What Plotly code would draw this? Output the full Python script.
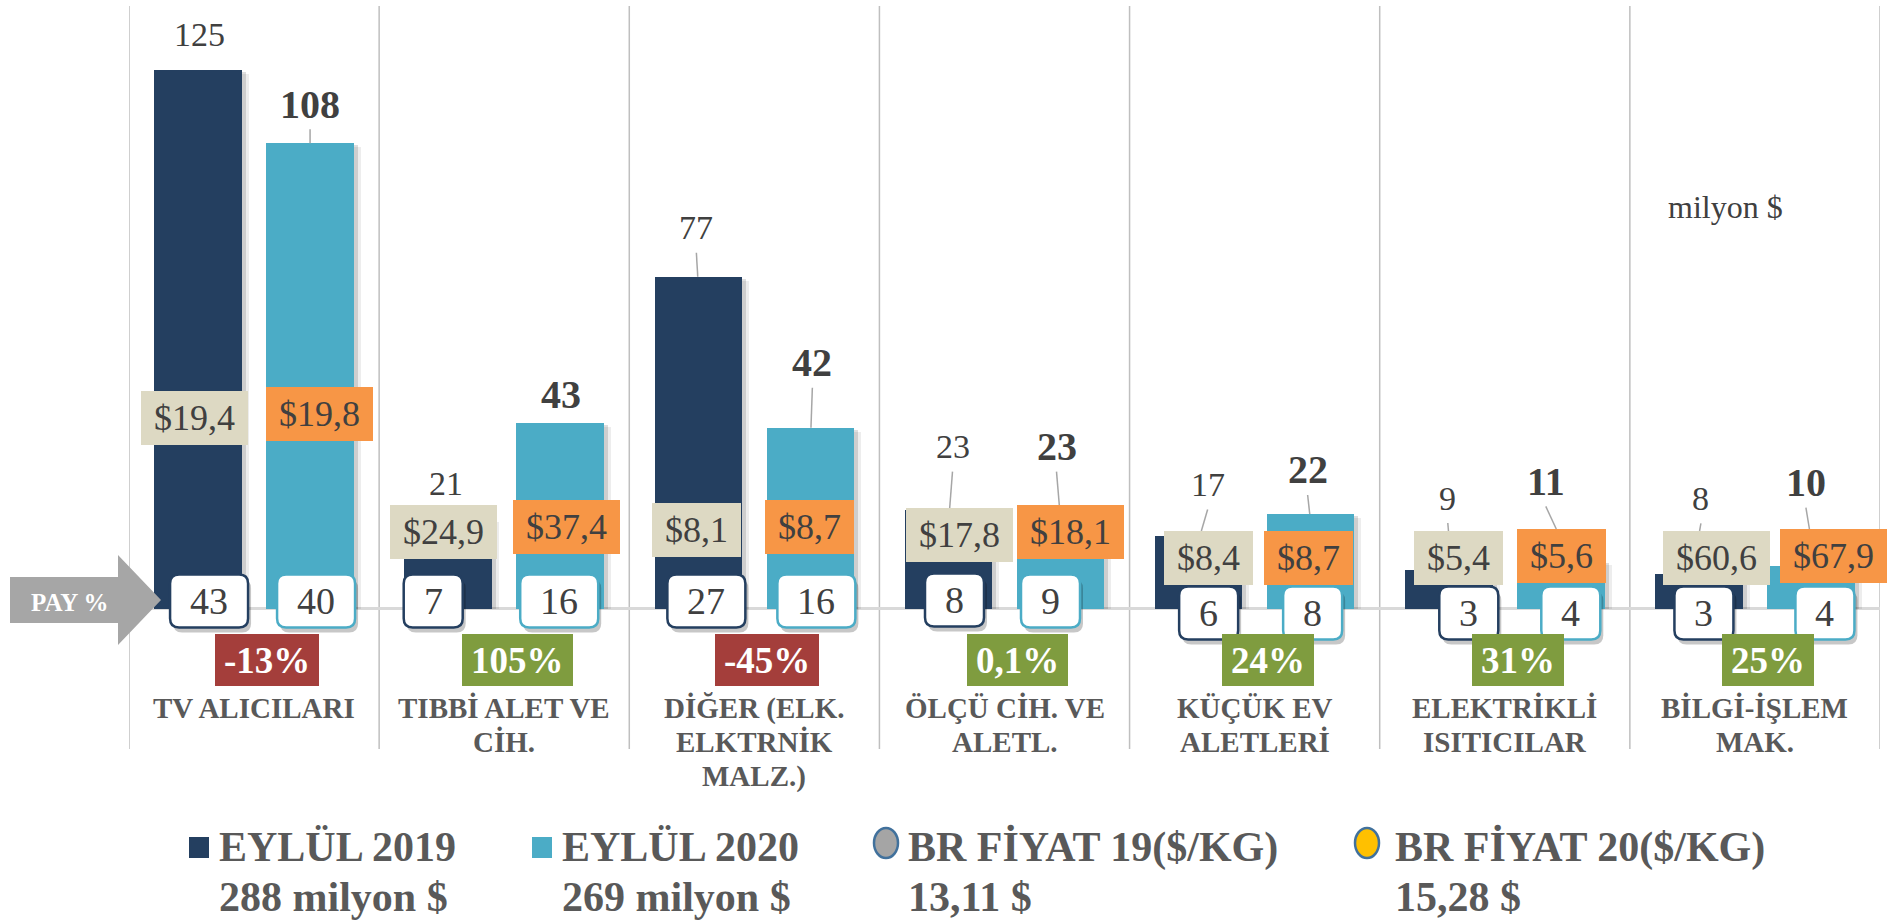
import plotly.graph_objects as go

# ---------------- data ----------------
categories = ["TV ALICILARI", "TIBBİ ALET VE<br>CİH.", "DİĞER (ELK.<br>ELKTRNİK<br>MALZ.)",
              "ÖLÇÜ CİH. VE<br>ALETL.", "KÜÇÜK EV<br>ALETLERİ", "ELEKTRİKLİ<br>ISITICILAR",
              "BİLGİ-İŞLEM<br>MAK."]
exports_2019 = [125, 21, 77, 23, 17, 9, 8]          # milyon $
exports_2020 = [108, 43, 42, 23, 22, 11, 10]        # milyon $
price_2019 = [19.4, 24.9, 8.1, 17.8, 8.4, 5.4, 60.6]  # $/kg
price_2020 = [19.8, 37.4, 8.7, 18.1, 8.7, 5.6, 67.9]  # $/kg
share_2019 = [43, 7, 27, 8, 6, 3, 3]                 # pay %
share_2020 = [40, 16, 16, 9, 8, 4, 4]                # pay %
change_pct = [-13, 105, -45, 0.1, 24, 31, 25]        # degisim %

series_names = ["EYLÜL 2019", "EYLÜL 2020", "BR FİYAT 19($/KG)", "BR FİYAT 20($/KG)"]
series_totals = ["288 milyon $", "269 milyon $", "13,11 $", "15,28 $"]
unit_label = "milyon $"
share_label = "PAY %"

# ---------------- layout / style ----------------
W, H = 1888, 922
PL, PR, PT, PB = 129, 1880, 6, 749
Y_MAX, Y_MIN = 139.8, -32.5
K = (PB - PT) / (Y_MAX - Y_MIN)          # px per y unit
NCAT = len(categories)
XU = (PR - PL) / NCAT                     # px per category


def ypx(py):
    return Y_MAX - (py - PT) / K


def xpx(px):
    return -0.5 + (px - PL) / XU


def pap(px, py):
    return (px - PL) / (PR - PL), (PB - py) / (PB - PT)


SERIF = "Liberation Serif"
NAVY = "#243F60"
TEAL = "#4BACC6"
BEIGE = "#DDD9C3"
ORANGE = "#F79646"
TXT = "#404040"
GRAYTXT = "#595959"

BW = 87.5 / XU
CENT = [-56 / XU, 56 / XU]

# label placement (px)
lab_dy = [[35, 35, 49, 63, 51, 72, 76], [39, 29, 65, 63, 44, 80, 83]]
lab_dx = [[1, -2, -2, 4, 9, -1, 2], [0, 1, 2, -4, -3, -15, -5]]
lead = [[0, 0, 1, 1, 1, 1, 1], [1, 0, 1, 1, 1, 1, 1]]
price_py = [[418, 532, 530, 535, 558, 558, 558], [414, 527, 527, 532, 558, 556, 556]]
price_dx = [[-4, -5, -2, 11, 10, 10, 18], [9, 6, -1, 10, -2, 1, 23]]
pay_py = [[601, 601, 601, 600, 613, 613, 613], [601, 601, 601, 601, 613, 613, 613]]
pay_dx = [[11, -15, 8, 6, 10, 20, 5], [6, -1, 6, -10, 2, 10, 14]]


def tw(s, size, bold=False):
    w = 0
    for ch in s:
        if ch.isdigit() or ch == '$':
            w += .5
        elif ch in ',.':
            w += .25
        elif ch == '%':
            w += 1.0 if bold else .833
        elif ch == '-':
            w += .333
        else:
            w += .5
    return w * size


def fmt_price(p):
    return "$" + f"{p:.1f}".replace('.', ',')


def fmt_pct(v):
    return f"{v:g}".replace('.', ',') + "%"


fig = go.Figure()
xs = list(range(NCAT))
series = [exports_2019, exports_2020]
colors = [NAVY, TEAL]

# bar shadows
for s in range(2):
    for ox, oy, a in [(7, 4, 0.07), (4, 2, 0.13)]:
        fig.add_bar(x=xs, y=[v - oy / K for v in series[s]], width=BW,
                    offset=CENT[s] - BW / 2 + ox / XU,
                    marker=dict(color=f"rgba(0,0,0,{a})", line=dict(width=0)),
                    hoverinfo="skip", showlegend=False)
# bars
for s in range(2):
    fig.add_bar(x=xs, y=series[s], width=BW, offset=CENT[s] - BW / 2,
                marker=dict(color=colors[s], line=dict(width=0)),
                name=series_names[s], showlegend=False)

shapes = []
ann = []

# category separators
for k in range(NCAT + 1):
    shapes.append(dict(type="line", xref="x", yref="paper", x0=k - 0.5, x1=k - 0.5, y0=0, y1=1,
                       line=dict(color="#BFBFBF", width=1.5), layer="below"))

prices = [price_2019, price_2020]
shares = [share_2019, share_2020]
price_bg = [BEIGE, ORANGE]


def rr(x0, x1, y0, y1, rx, ry):
    return (f"M {x0+rx},{y1} L {x1-rx},{y1} Q {x1},{y1} {x1},{y1-ry} "
            f"L {x1},{y0+ry} Q {x1},{y0} {x1-rx},{y0} L {x0+rx},{y0} "
            f"Q {x0},{y0} {x0},{y0+ry} L {x0},{y1-ry} Q {x0},{y1} {x0+rx},{y1} Z")


for s in range(2):
    for i in range(NCAT):
        bx = i + CENT[s]
        v = series[s][i]
        # price box
        py = ypx(price_py[s][i])
        ptxt = fmt_price(prices[s][i])
        ann.append(dict(x=bx + price_dx[s][i] / XU, y=py, text=ptxt, showarrow=False,
                        xanchor="center", yanchor="middle",
                        font=dict(family=SERIF, size=36, color=TXT),
                        bgcolor=price_bg[s], borderwidth=0, borderpad=0,
                        width=tw(ptxt, 36) + 26, height=54))
        # value label
        lx = bx + lab_dx[s][i] / XU
        if s == 0:
            ann.append(dict(x=lx, y=v, yshift=lab_dy[s][i], text=str(v), showarrow=False,
                            xanchor="center", yanchor="middle",
                            font=dict(family=SERIF, size=34, color=TXT)))
        else:
            ann.append(dict(x=lx, y=v, yshift=lab_dy[s][i], text=f"<b>{v}</b>", showarrow=False,
                            xanchor="center", yanchor="middle",
                            font=dict(family=SERIF, size=40, color=TXT)))
        if lead[s][i]:
            y0 = v + (lab_dy[s][i] - 25) / K
            y1 = max(v, py + 27 / K)
            shapes.append(dict(type="line", xref="x", yref="y", x0=lx, y0=y0,
                               x1=bx + (lab_dx[s][i] * 0.3) / XU, y1=y1,
                               line=dict(color="#A6A6A6", width=1.5), layer="above"))
        # share (PAY) rounded box
        stxt = str(shares[s][i])
        bwpx = tw(stxt, 38) + 40
        bhpx = 53
        cx = bx + pay_dx[s][i] / XU
        cy = ypx(pay_py[s][i])
        hw, hh = bwpx / 2 / XU, bhpx / 2 / K
        rx, ry = 9 / XU, 9 / K
        sdx, sdy = 3 / XU, 5 / K
        shapes.append(dict(type="path", xref="x", yref="y",
                           path=rr(cx - hw + sdx, cx + hw + sdx, cy - hh - sdy, cy + hh - sdy, rx, ry),
                           fillcolor="rgba(0,0,0,0.22)", line=dict(width=0), layer="above"))
        shapes.append(dict(type="path", xref="x", yref="y",
                           path=rr(cx - hw, cx + hw, cy - hh, cy + hh, rx, ry),
                           fillcolor="white", line=dict(color=colors[s], width=2.5), layer="above"))
        ann.append(dict(x=cx, y=cy, text=stxt, showarrow=False, xanchor="center", yanchor="middle",
                        font=dict(family=SERIF, size=38, color=TXT)))

# change boxes
for i, c in enumerate(change_pct):
    t = fmt_pct(c)
    ann.append(dict(x=i + 13 / XU, y=ypx(660), text=f"<b>{t}</b>", showarrow=False,
                    xanchor="center", yanchor="middle",
                    font=dict(family=SERIF, size=37, color="white"),
                    bgcolor="#A43E3B" if c < 0 else "#7F9C3F", borderwidth=0, borderpad=0,
                    width=tw(t, 37, True) + 18, height=52))

# category labels
for i, cat in enumerate(categories):
    for j, line in enumerate(cat.split("<br>")):
        ann.append(dict(x=i, xref="x", yref="paper", y=pap(0, 708 + 34 * j)[1],
                        text=f"<b>{line}</b>", showarrow=False, xanchor="center", yanchor="middle",
                        font=dict(family=SERIF, size=29, color=GRAYTXT)))

# unit label
ann.append(dict(x=xpx(1725), y=ypx(207), text=unit_label, showarrow=False,
                xanchor="center", yanchor="middle",
                font=dict(family=SERIF, size=32, color=TXT)))

# PAY % arrow
pts = [(10, 577), (118, 577), (118, 555), (161, 600), (118, 645), (118, 623), (10, 623)]
pp = [pap(*p) for p in pts]
path = "M " + " L ".join(f"{a},{b}" for a, b in pp) + " Z"
shapes.append(dict(type="path", xref="paper", yref="paper", path=path,
                   fillcolor="#A6A6A6", line=dict(width=0), layer="above"))
ax, ay = pap(70, 602)
ann.append(dict(x=ax, y=ay, xref="paper", yref="paper", text=f"<b>{share_label}</b>",
                showarrow=False, xanchor="center", yanchor="middle",
                font=dict(family=SERIF, size=25, color="white")))

# legend (manual)
leg_text_x = [217, 560, 906, 1393]
for (x0, x1), col in zip([(189, 209), (532, 552)], colors):
    a0, b0 = pap(x0, 858)
    a1, b1 = pap(x1, 837)
    shapes.append(dict(type="rect", xref="paper", yref="paper", x0=a0, x1=a1, y0=b0, y1=b1,
                       fillcolor=col, line=dict(width=0), layer="above"))
for cxp, col in zip([886, 1367], ["#A5A5A5", "#FFC000"]):
    a0, b0 = pap(cxp - 12, 858)
    a1, b1 = pap(cxp + 12, 828)
    shapes.append(dict(type="circle", xref="paper", yref="paper", x0=a0, x1=a1, y0=b0, y1=b1,
                       fillcolor=col, line=dict(color="#41719C", width=2.5), layer="above"))
for k in range(4):
    for j, t in enumerate([series_names[k], series_totals[k]]):
        a, b = pap(leg_text_x[k], 847 + 50 * j)
        ann.append(dict(x=a, y=b, xref="paper", yref="paper", text=f"<b>{t}</b>",
                        showarrow=False, xanchor="left", yanchor="middle",
                        font=dict(family=SERIF, size=42, color=GRAYTXT)))

fig.update_layout(
    width=W, height=H, autosize=False,
    margin=dict(l=PL, r=W - PR, t=PT, b=H - PB, pad=0),
    paper_bgcolor="white", plot_bgcolor="white",
    barmode="overlay", bargap=0,
    showlegend=False,
    xaxis=dict(range=[-0.5, NCAT - 0.5], showgrid=False, zeroline=False, showticklabels=False,
               showline=False, fixedrange=True),
    yaxis=dict(range=[Y_MIN, Y_MAX], showgrid=False, zeroline=True, zerolinecolor="#D9D9D9",
               zerolinewidth=2.5, showticklabels=False, showline=False, fixedrange=True),
    shapes=shapes, annotations=ann,
    font=dict(family=SERIF),
)

fig.write_html("out.html", post_script="document.body.style.margin='0';",
               config={"displayModeBar": False})
